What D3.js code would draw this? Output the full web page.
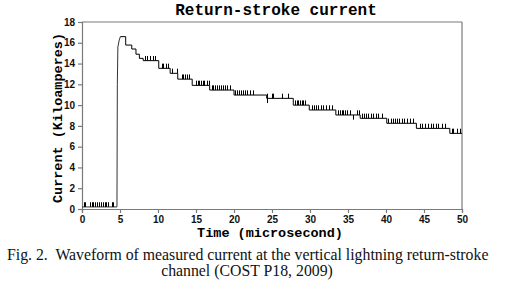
<!DOCTYPE html>
<html>
<head>
<meta charset="utf-8">
<script src="https://cdn.jsdelivr.net/npm/d3@7"></script>
<style>
  body { margin: 0; background: #fff; }
  svg { display: block; }
</style>
</head>
<body>
<svg id="chart" width="512" height="286"></svg>
<script>
// baseline + rising front (linear segments)
var riseTime    = [0,   4.6, 4.65, 4.72, 4.9,   5.05];
var riseCurrent = [0.2, 0.2, 12.0, 15.6, 16.27, 16.59];

// quantised decay (step levels, each holds until next time)
var stepTime    = [5.05,  5.75,  6.55, 7.1,  7.55, 8.05,  10.1,  11.6,  12.6, 14.5, 16.8,  20.0,  24.3,  27.8, 29.9, 33.4, 36.6, 40.1, 44.0, 48.4, 50.0];
var stepCurrent = [16.59, 15.78, 15.4, 14.9, 14.5, 14.28, 13.54, 13.06, 12.5, 11.9, 11.45, 10.97, 10.65, 10.0, 9.53, 9.05, 8.73, 8.25, 7.76, 7.28, 7.28];

// digitiser flicker: short ticks up one level
var flickUp = [0.2, 0.45, 1.0, 1.3, 1.5, 1.75, 2.0, 2.2, 2.5, 2.75, 3.0, 3.2, 3.45, 3.9, 4.1,
  8.29, 8.6, 8.95, 9.3, 9.6,
  10.48, 10.7, 11.05, 11.36, 11.8, 12.46,
  13.11, 13.33, 13.6, 13.86, 14.12,
  15.0, 15.22, 15.44, 15.66, 15.88, 16.1, 16.4, 16.67,
  17.06, 17.28, 17.5, 17.72, 17.98, 18.24, 18.51, 18.77, 19.04, 19.47,
  20.13, 20.35, 20.61, 20.88, 21.14, 21.4, 21.75, 22.1, 22.54,
  24.4, 24.96, 25.18, 26.27, 27.15,
  28.03, 28.25, 28.46, 28.68, 28.9, 29.12, 29.34,
  30.22, 30.53, 30.79, 31.1, 31.4, 31.75, 32.1, 32.46, 32.85,
  33.73, 33.95, 34.17, 34.39, 34.6, 34.9, 35.26, 36.23, 36.49,
  36.8, 37.1, 37.37, 37.68, 37.98, 38.33, 38.68, 39.0, 39.43,
  40.31, 40.6, 40.88, 41.18, 41.49, 41.75, 42.06, 42.37, 42.72, 43.16, 43.6,
  44.47, 44.78, 45.13, 45.57, 45.88, 46.23, 46.58, 46.88, 47.32, 47.76,
  48.64, 48.86, 49.3, 49.74];
var flickDown = [24.3, 35.7];
var flickSize = 0.45;

var xTicks = [0, 5, 10, 15, 20, 25, 30, 35, 40, 45, 50];
var yTicks = [0, 2, 4, 6, 8, 10, 12, 14, 16, 18];

var titleText = "Return-stroke current";
var xLabel = "Time (microsecond)";
var yLabel = "Current (Kiloamperes)";
var caption1 = "Fig. 2.  Waveform of measured current at the vertical lightning return-stroke";
var caption2 = "channel (COST P18, 2009)";

var svg = d3.select("#chart");
var plotLeft = 82, plotRight = 462, plotTop = 22, plotBottom = 209;

var x = d3.scaleLinear().domain([0, 50]).range([plotLeft, plotRight]);
var y = d3.scaleLinear().domain([0, 18]).range([plotBottom, plotTop]);

var axisColor = "#7a7a7a";

// frame top / right
svg.append("line").attr("x1", plotLeft).attr("x2", plotRight).attr("y1", plotTop).attr("y2", plotTop)
  .attr("stroke", axisColor).attr("stroke-width", 1.2);
svg.append("line").attr("x1", plotRight).attr("x2", plotRight).attr("y1", plotTop).attr("y2", plotBottom)
  .attr("stroke", axisColor).attr("stroke-width", 1.2);

var xAxis = svg.append("g")
  .attr("transform", "translate(0," + plotBottom + ")")
  .call(d3.axisBottom(x).tickValues(xTicks).tickSize(4).tickPadding(3));
var yAxis = svg.append("g")
  .attr("transform", "translate(" + plotLeft + ",0)")
  .call(d3.axisLeft(y).tickValues(yTicks).tickSize(4).tickPadding(3));

[xAxis, yAxis].forEach(function(g) {
  g.select(".domain").attr("stroke", axisColor).attr("stroke-width", 1.2);
  g.selectAll(".tick line").attr("stroke", axisColor).attr("stroke-width", 1.2);
  g.selectAll(".tick text")
    .attr("fill", "#111")
    .style("font-family", "'Liberation Sans', Arial, sans-serif")
    .style("font-size", "10px")
    .style("font-weight", "bold");
});

// trace
var rise = riseTime.map(function(t, i) { return [t, riseCurrent[i]]; });
var steps = stepTime.map(function(t, i) { return [t, stepCurrent[i]]; });

svg.append("path")
  .datum(rise)
  .attr("fill", "none")
  .attr("stroke", "#333")
  .attr("stroke-width", 1)
  .attr("d", d3.line().x(function(d) { return x(d[0]); }).y(function(d) { return y(d[1]); }));

svg.append("path")
  .datum(steps)
  .attr("fill", "none")
  .attr("stroke", "#000")
  .attr("stroke-width", 1)
  .attr("d", d3.line().curve(d3.curveStepAfter)
    .x(function(d) { return x(d[0]); }).y(function(d) { return y(d[1]); }));

function levelAt(t) {
  if (t < stepTime[0]) return riseCurrent[0];
  var i = d3.bisectRight(stepTime, t) - 1;
  return stepCurrent[Math.max(0, i)];
}

svg.append("g").selectAll("line.up")
  .data(flickUp)
  .enter().append("line")
  .attr("x1", function(d) { return Math.round(x(d)) + 0.5; })
  .attr("x2", function(d) { return Math.round(x(d)) + 0.5; })
  .attr("y1", function(d) { return y(levelAt(d)); })
  .attr("y2", function(d) { return y(levelAt(d) + flickSize); })
  .attr("stroke", "#000").attr("stroke-width", 1);

svg.append("g").selectAll("line.down")
  .data(flickDown)
  .enter().append("line")
  .attr("x1", function(d) { return Math.round(x(d)) + 0.5; })
  .attr("x2", function(d) { return Math.round(x(d)) + 0.5; })
  .attr("y1", function(d) { return y(levelAt(d)); })
  .attr("y2", function(d) { return y(levelAt(d) - flickSize); })
  .attr("stroke", "#000").attr("stroke-width", 1);

// titles
var mono = "'Liberation Mono', 'Courier New', monospace";
svg.append("text")
  .attr("x", 276).attr("y", 15)
  .attr("text-anchor", "middle")
  .style("font-family", mono).style("font-weight", "bold").style("font-size", "16px")
  .text(titleText);

svg.append("text")
  .attr("x", 270).attr("y", 237)
  .attr("text-anchor", "middle")
  .style("font-family", mono).style("font-weight", "bold").style("font-size", "13.5px")
  .text(xLabel);

svg.append("text")
  .attr("transform", "translate(62,118) rotate(-90)")
  .attr("text-anchor", "middle")
  .style("font-family", mono).style("font-weight", "bold").style("font-size", "13.5px")
  .text(yLabel);

var serif = "'Liberation Serif', 'Times New Roman', serif";
svg.append("text")
  .attr("x", 7).attr("y", 260)
  .style("font-family", serif).style("font-size", "15.8px").attr("fill", "#111")
  .style("white-space", "pre")
  .attr("xml:space", "preserve")
  .text(caption1);
svg.append("text")
  .attr("x", 247).attr("y", 276)
  .attr("text-anchor", "middle")
  .style("font-family", serif).style("font-size", "15.8px").attr("fill", "#111")
  .text(caption2);
</script>
</body>
</html>
